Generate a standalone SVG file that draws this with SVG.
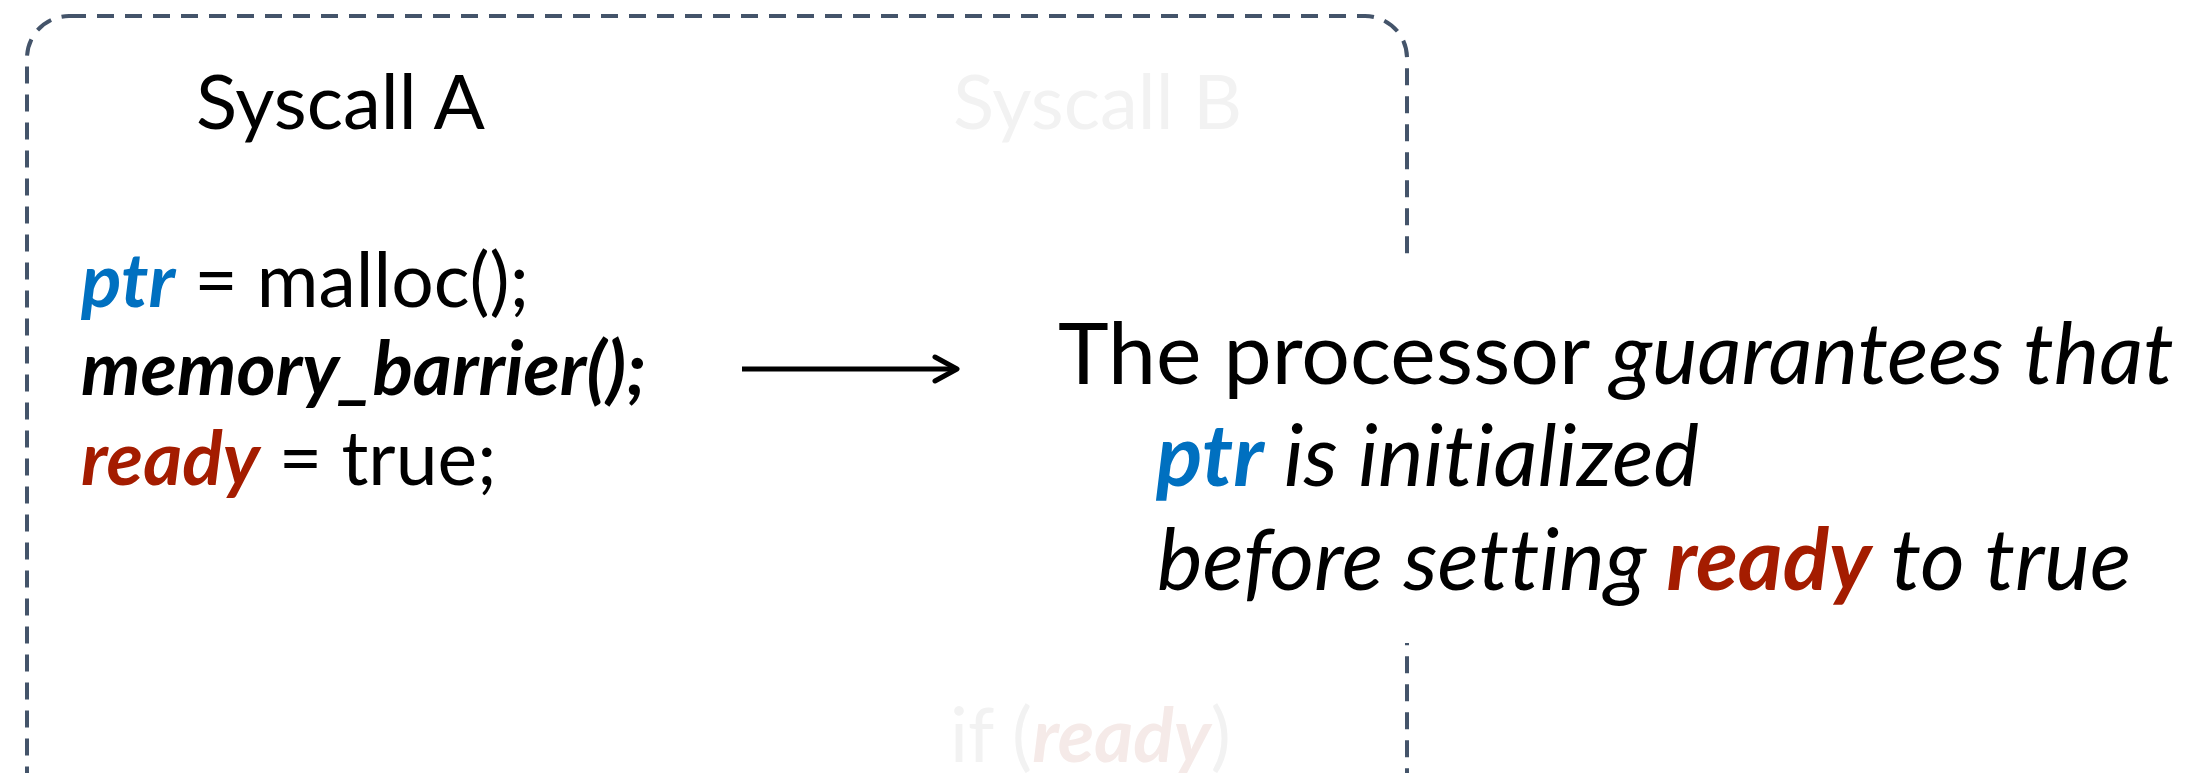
<svg xmlns="http://www.w3.org/2000/svg" width="2193" height="773" viewBox="0 0 2193 773">
  <style>
    text { font-family: Lato, "Open Sans", "Liberation Sans", sans-serif; font-variant-ligatures: none; }
    .label { font-size: 76px; }
    .code { font-size: 75px; fill: #000; }
    .note { font-size: 86px; fill: #000; }
    .faint { fill: #F2F2F2; }
    .faintRed { fill: #F5EAE8; }
    .bi { font-weight: bold; font-style: italic; }
    .it { font-style: italic; }
    .ptr { fill: #0070C0; }
    .ready { fill: #A41C00; }
  </style>
  <defs>
    <marker id="openHead" viewBox="0 0 30 30" refX="25" refY="15" markerWidth="30" markerHeight="30" markerUnits="userSpaceOnUse" orient="auto">
      <path d="M3 3 L25 15 L3 27" fill="none" stroke="#000" stroke-width="5" stroke-linecap="round" stroke-linejoin="round"/>
    </marker>
  </defs>

  <rect width="2193" height="773" fill="#fff"/>

  <!-- dashed frame around both syscalls (continues below the canvas) -->
  <g id="frame">
    <rect x="27" y="16" width="1380" height="900" rx="42" ry="42" fill="none" stroke="#44546A" stroke-width="4" stroke-dasharray="17 11"/>
  </g>

  <g id="syscall-a">
    <text class="label" x="196" y="129">Syscall A</text>
    <text class="code" x="81" y="307"><tspan class="bi ptr">ptr</tspan> = malloc();</text>
    <text class="code bi" x="81" y="395">memory_barrier();</text>
    <text class="code" x="81" y="485"><tspan class="bi ready">ready</tspan> = true;</text>
  </g>

  <g id="syscall-b">
    <text class="label faint" x="953" y="129">Syscall B</text>
    <text class="code faint" x="950" y="762">if (<tspan class="bi faintRed">ready</tspan>)</text>
  </g>

  <g id="connectors">
    <line x1="742" y1="369" x2="957" y2="369" stroke="#000" stroke-width="5" marker-end="url(#openHead)"/>
  </g>

  <!-- explanation callout; its white backing hides part of the frame -->
  <g id="explanation">
    <rect x="1040" y="259" width="1153" height="384" fill="#fff"/>
    <text class="note" x="1058" y="384">The processor <tspan class="it">guarantees that</tspan></text>
    <text class="note it" x="1156" y="486"><tspan class="bi ptr">ptr</tspan> is initialized</text>
    <text class="note it" x="1157" y="590">before setting <tspan class="bi ready">ready</tspan> to true</text>
  </g>
</svg>
